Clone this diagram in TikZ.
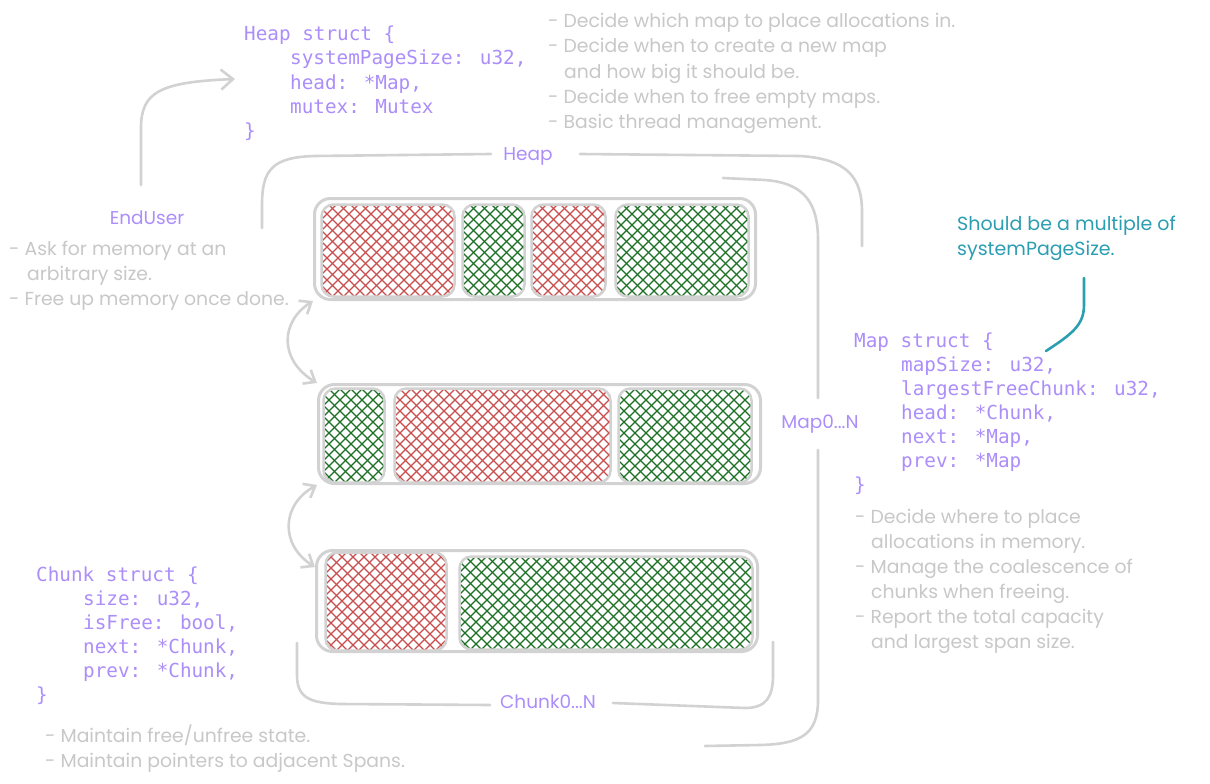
\documentclass[tikz,border=0pt]{standalone}
\usepackage{fontspec}
\setmainfont{Poppins}
\newfontfamily\codefont{DejaVu Sans Mono}
\newfontfamily\handfont{Poppins}
\usetikzlibrary{arrows.meta}
\definecolor{purp}{RGB}{172,142,250}
\definecolor{gtext}{RGB}{200,200,200}
\definecolor{gline}{RGB}{210,210,210}
\definecolor{teal2}{RGB}{44,158,178}
\definecolor{redh}{RGB}{200,78,78}
\definecolor{greenh}{RGB}{28,112,36}
\tikzset{
  code/.style={font=\codefont\fontsize{19.3}{24}\selectfont, text=purp, anchor=base west, inner sep=0pt},
  note/.style={font=\handfont\fontsize{18.8}{25}\selectfont, text=gtext, anchor=base west, inner sep=0pt},
  tnote/.style={font=\handfont\fontsize{19}{25}\selectfont, text=teal2, anchor=base west, inner sep=0pt},
  lbl/.style={font=\handfont\fontsize{18.5}{20}\selectfont, text=purp, anchor=base, inner sep=0pt},
  gconn/.style={draw=gline, line width=2.6pt, line cap=round},
  barb/.style={-{Straight Barb[length=12pt,width=20pt]}},
  dbarb/.style={{Straight Barb[length=10pt,width=16pt]}-{Straight Barb[length=10pt,width=16pt]}},
  maprow/.style={draw=gline, line width=3pt, rounded corners=16pt, inner sep=0pt},
  chunkbox/.style={draw=gline, line width=2.5pt, rounded corners=12pt, inner sep=0pt},
  hatch/.style={path picture={
    \foreach \d in {-121,-110,...,320}{
      \draw[#1,line width=1.25pt] ([xshift=\d pt]path picture bounding box.south west) -- ++(130pt,130pt);
    }
    \foreach \d in {-11,0,...,440}{
      \draw[#1,line width=1.25pt] ([xshift=\d pt]path picture bounding box.south west) -- ++(-130pt,130pt);
    }
  }},
}
\begin{document}
\begin{tikzpicture}[x=1pt,y=-1pt]
\useasboundingbox (0,0) rectangle (1210,784);
\fill[white] (0,0) rectangle (1210,784);

% ---------- map rows ----------
\node[maprow, minimum width=441pt, minimum height=101pt] (map1) at (535,249) {};
\node[maprow, minimum width=442pt, minimum height=99pt] (map2) at (539.5,434) {};
\node[maprow, minimum width=441pt, minimum height=101pt] (map3) at (537,601) {};

% ---------- chunks ----------
\node[chunkbox, hatch=redh,   minimum width=133pt, minimum height=92pt] (c11) at (388,250.5) {};
\node[chunkbox, hatch=greenh, minimum width=62pt,  minimum height=92pt] (c12) at (493.5,250.5) {};
\node[chunkbox, hatch=redh,   minimum width=74pt,  minimum height=92pt] (c13) at (568.5,250.5) {};
\node[chunkbox, hatch=greenh, minimum width=133pt, minimum height=92pt] (c14) at (682,250.5) {};

\node[chunkbox, hatch=greenh, minimum width=61pt,  minimum height=94pt] (c21) at (354,435.5) {};
\node[chunkbox, hatch=redh,   minimum width=216pt, minimum height=94pt] (c22) at (502.5,435.5) {};
\node[chunkbox, hatch=greenh, minimum width=133pt, minimum height=94pt] (c23) at (685,435.5) {};

\node[chunkbox, hatch=redh,   minimum width=121pt, minimum height=98pt] (c31) at (386,601.5) {};
\node[chunkbox, hatch=greenh, minimum width=293pt, minimum height=93pt] (c32) at (606,603) {};

% ---------- links between maps ----------
\draw[gconn, dbarb] (map1.south west) .. controls (280,322) and (279,360) .. (map2.north west);
\draw[gconn, dbarb] (map2.south west) .. controls (281,505) and (280,545) .. ([yshift=-18pt]map3.north west);

% ---------- Heap struct ----------
\node[code] (heap0) at (244,41) {Heap struct \{};
\node[code] (heap1) at (290,65) {systemPageSize: u32,};
\node[code] (heap2) at (290,89) {head: *Map,};
\node[code] (heap3) at (290,113) {mutex: Mutex};
\node[code] (heap4) at (244,137) {\}};

% ---------- Heap notes ----------
\node[note] (hn0) at (548,28) {- Decide which map to place allocations in.};
\node[note] (hn1) at (548,53) {- Decide when to create a new map};
\node[note] (hn2) at (564,78) {and how big it should be.};
\node[note] (hn3) at (548,103) {- Decide when to free empty maps.};
\node[note] (hn4) at (548,128) {- Basic thread management.};

% ---------- EndUser ----------
\node[lbl] (eu) at (147,224) {EndUser};
\node[note] (en0) at (9,255) {- Ask for memory at an};
\node[note] (en1) at (27,280) {arbitrary size.};
\node[note] (en2) at (9,305) {- Free up memory once done.};
\coordinate (euStart) at (141,185);
\coordinate (heapIn) at (235,79);
\draw[gconn, barb] (euStart) -- (141,128) .. controls (141,92) and (160,82) .. (heapIn);

% ---------- Heap bracket ----------
\node[lbl] (heapLbl) at (528,160) {Heap};
\coordinate (hbL) at (262,228);
\coordinate (hbLe) at (491,154);
\coordinate (hbRs) at (580,154);
\coordinate (hbR) at (862,246);
\draw[gconn] (hbL) -- (262,205) .. controls (262,170) and (272,157) .. (315,156) -- (hbLe);
\draw[gconn] (hbRs) -- (800,156) .. controls (848,159) and (862,178) .. (862,212) -- (hbR);

% ---------- Map bracket ----------
\node[lbl] (mapLbl) at (820,428) {Map0...N};
\coordinate (mbT) at (723,178);
\coordinate (mbTe) at (818,398);
\coordinate (mbBs) at (818,450);
\coordinate (mbB) at (705,746);
\draw[gconn] (mbT) -- (765,180) .. controls (806,183) and (818,205) .. (818,240) -- (mbTe);
\draw[gconn] (mbBs) -- (818,700) .. controls (818,735) and (800,744) .. (760,745) -- (mbB);

% ---------- Chunk bracket ----------
\node[lbl] (chunkLbl) at (548,708) {Chunk0...N};
\coordinate (cbL) at (297,643);
\coordinate (cbLe) at (490,705);
\coordinate (cbRs) at (613,703);
\coordinate (cbR) at (773,642);
\draw[gconn] (cbL) -- (297,675) .. controls (297,698) and (310,703) .. (340,704) -- (cbLe);
\draw[gconn] (cbRs) -- (745,708) .. controls (767,708) and (773,696) .. (773,675) -- (cbR);

% ---------- Map struct ----------
\node[code] (ms0) at (854,347) {Map struct \{};
\node[code] (ms1) at (901,371) {mapSize: u32,};
\node[code] (ms2) at (901,395) {largestFreeChunk: u32,};
\node[code] (ms3) at (901,419) {head: *Chunk,};
\node[code] (ms4) at (901,443) {next: *Map,};
\node[code] (ms5) at (901,467) {prev: *Map};
\node[code] (ms6) at (854,491) {\}};

\node[note] (mn0) at (855,523) {- Decide where to place};
\node[note] (mn1) at (871,548) {allocations in memory.};
\node[note] (mn2) at (855,573) {- Manage the coalescence of};
\node[note] (mn3) at (871,598) {chunks when freeing.};
\node[note] (mn4) at (855,623) {- Report the total capacity};
\node[note] (mn5) at (871,648) {and largest span size.};

% ---------- teal note ----------
\node[tnote] (tn0) at (957,230) {Should be a multiple of};
\node[tnote] (tn1) at (957,255) {systemPageSize.};
\coordinate (tlTop) at (1084,278);
\coordinate (tlEnd) at (1046,351);
\draw[draw=teal2, line width=2.6pt, line cap=round] (tlTop) -- (1084,305) .. controls (1084,325) and (1072,334) .. (tlEnd);

% ---------- Chunk struct ----------
\node[code] (cs0) at (36,581) {Chunk struct \{};
\node[code] (cs1) at (83,605) {size: u32,};
\node[code] (cs2) at (83,629) {isFree: bool,};
\node[code] (cs3) at (83,653) {next: *Chunk,};
\node[code] (cs4) at (83,677) {prev: *Chunk,};
\node[code] (cs5) at (36,701) {\}};

\node[note] (cn0) at (45,742) {- Maintain free/unfree state.};
\node[note] (cn1) at (45,767) {- Maintain pointers to adjacent Spans.};
\end{tikzpicture}
\end{document}
